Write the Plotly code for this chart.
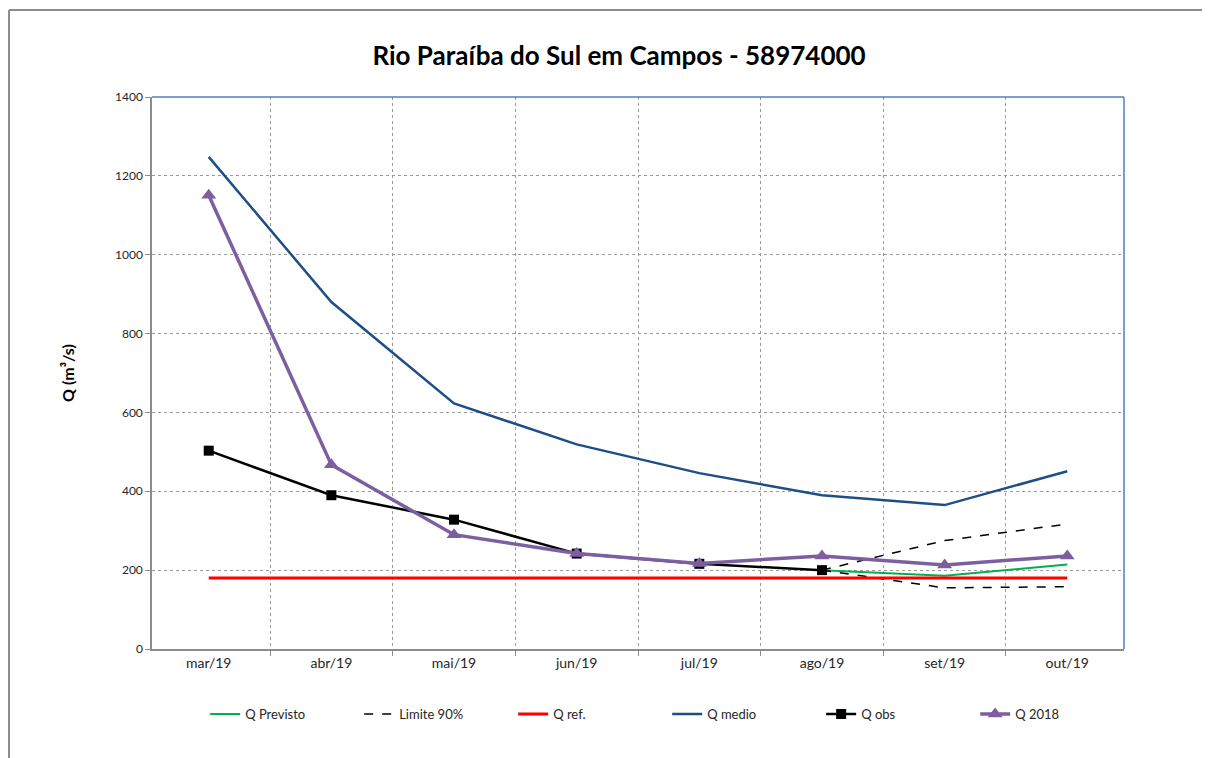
"""Rio Paraíba do Sul em Campos - 58974000: vazões mensais (recreation)."""
import plotly.graph_objects as go

# ---------------------------------------------------------------------------
# Data (m3/s)
# ---------------------------------------------------------------------------
months = ["mar/19", "abr/19", "mai/19", "jun/19", "jul/19", "ago/19", "set/19", "out/19"]

q_previsto = [None, None, None, None, None, 200, 186, 214]
lim90_sup = [None, None, None, None, None, 200, 275, 317]
lim90_inf = [None, None, None, None, None, 200, 155, 158]
q_ref = [180, 180, 180, 180, 180, 180, 180, 180]
q_medio = [1248, 880, 623, 519, 446, 390, 365, 451]
q_obs = [503, 390, 328, 242, 216, 200, None, None]
q_2018 = [1151, 467, 290, 242, 217, 236, 213, 236]

FONT = "Lato"

fig = go.Figure()

fig.add_trace(go.Scatter(
    x=months, y=q_previsto, name="Q Previsto", mode="lines",
    line=dict(color="#00B050", width=2),
))
fig.add_trace(go.Scatter(
    x=months, y=lim90_sup, name="Limite 90%", mode="lines", legendgroup="lim",
    line=dict(color="black", width=1.5, dash="dash"),
))
fig.add_trace(go.Scatter(
    x=months, y=lim90_inf, name="Limite 90%", mode="lines", legendgroup="lim",
    showlegend=False, line=dict(color="black", width=1.5, dash="dash"),
))
fig.add_trace(go.Scatter(
    x=months, y=q_ref, name="Q ref.", mode="lines",
    line=dict(color="#FF0000", width=3),
))
fig.add_trace(go.Scatter(
    x=months, y=q_medio, name="Q medio", mode="lines",
    line=dict(color="#1F4E87", width=2.5),
))
fig.add_trace(go.Scatter(
    x=months, y=q_obs, name="Q obs", mode="lines+markers",
    line=dict(color="black", width=2.5),
    marker=dict(symbol="square", size=10, color="black"),
))
fig.add_trace(go.Scatter(
    x=months, y=q_2018, name="Q 2018", mode="lines+markers",
    line=dict(color="#7D5FA0", width=3.5),
    marker=dict(symbol="triangle-up", size=13, color="#7D5FA0"),
))

# outer frame (gray) and blue top/right plot border
frame = dict(color="#8C8C8C", width=2)
fig.add_shape(type="line", xref="paper", yref="paper",
              x0=-0.1471, x1=1.1, y0=1.1576, y1=1.1576, line=frame)
fig.add_shape(type="line", xref="paper", yref="paper",
              x0=-0.1471, x1=-0.1471, y0=1.1576, y1=-0.22, line=frame)
blue = dict(color="#4F81BD", width=1.5)
fig.add_shape(type="line", xref="paper", yref="paper",
              x0=0, x1=1, y0=1, y1=1, line=blue)
fig.add_shape(type="line", xref="paper", yref="paper",
              x0=1, x1=1, y0=1, y1=0, line=blue)

fig.update_layout(
    width=1210,
    height=758,
    paper_bgcolor="white",
    plot_bgcolor="white",
    font=dict(family=FONT, color="#262626"),
    margin=dict(l=144, r=94, t=89, b=117, autoexpand=False),
    title=dict(
        text="<b>Rio Paraíba do Sul em Campos - 58974000</b>",
        x=0.505, xanchor="center", y=0.9367, yanchor="middle",
        font=dict(family=FONT, size=26, color="black"),
    ),
    xaxis=dict(
        type="category",
        tickson="boundaries",
        showgrid=True, gridcolor="#9A9A9A", griddash="dot", gridwidth=1,
        showline=True, linecolor="#8C8C8C", linewidth=1.5,
        ticks="outside", ticklen=5, tickcolor="#8C8C8C",
        tickfont=dict(size=14, color="#262626"),
        zeroline=False,
    ),
    yaxis=dict(
        range=[0, 1400], dtick=200,
        showgrid=True, gridcolor="#9A9A9A", griddash="dot", gridwidth=1,
        showline=True, linecolor="#8C8C8C", linewidth=1.5,
        ticks="outside", ticklen=5, tickcolor="#8C8C8C",
        tickfont=dict(size=12, color="#262626"),
        zeroline=False,
        title=dict(text="<b>Q (m³/s)</b>", font=dict(size=16, color="black"), standoff=36),
    ),
    legend=dict(
        orientation="h", x=0.53, xanchor="center", y=-0.118, yanchor="middle",
        font=dict(size=13, color="#262626"),
        itemwidth=30, entrywidth=109, entrywidthmode="pixels",
        traceorder="normal",
    ),
    showlegend=True,
)

fig.write_html("out.html")
